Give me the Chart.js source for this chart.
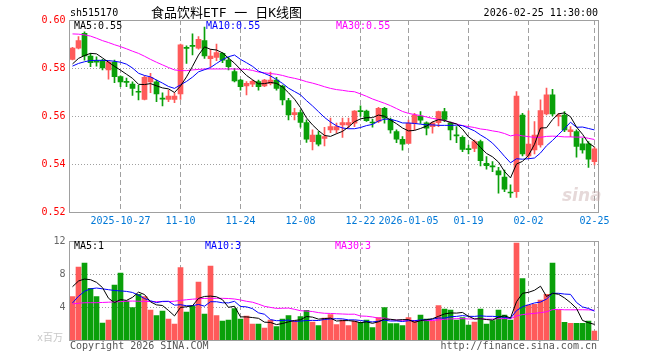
<!DOCTYPE html>
<html><head><meta charset="utf-8">
<script src="https://cdn.jsdelivr.net/npm/chart.js@4.4.1/dist/chart.umd.min.js"></script>
<style>
body{margin:0;background:#fff;}
#wrap{position:relative;width:660px;height:360px;overflow:hidden;font-family:"DejaVu Sans Mono",monospace;font-size:10px;}
canvas{position:absolute;left:0;top:0;}
.t{position:absolute;white-space:nowrap;line-height:12px;}
</style></head><body>
<div id="wrap">
<canvas id="pc" width="660" height="360"></canvas>
<canvas id="vc" width="660" height="360"></canvas>
<div class="t" style="left:70px;top:7px;color:#000">sh515170</div>
<div class="t" style="left:151px;top:5px;line-height:16px;font-size:13px;font-family:'DejaVu Sans Mono','Noto Sans CJK SC';color:#000">食品饮料ETF 一 日K线图</div>
<div class="t" style="right:62px;top:7px;color:#000">2026-02-25 11:30:00</div>
<div class="t" style="left:74px;top:20px;color:#000">MA5:0.55</div>
<div class="t" style="left:206px;top:20px;color:#0000ff">MA10:0.55</div>
<div class="t" style="left:336px;top:20px;color:#ff00ff">MA30:0.55</div>
<div class="t" style="left:74px;top:240px;color:#000">MA5:1</div>
<div class="t" style="left:205px;top:240px;color:#0000ff">MA10:3</div>
<div class="t" style="left:335px;top:240px;color:#ff00ff">MA30:3</div>
<div class="t" style="right:597px;top:332px;color:#c8c8c8;font-family:'DejaVu Sans Mono','Noto Sans CJK SC'">x百万</div>
<div class="t" style="left:70px;top:340px;color:#555">Copyright 2026 SINA.COM</div>
<div class="t" style="right:63px;top:340px;color:#555">http://finance.sina.com.cn</div>
<div class="t" style="left:562px;top:186px;font:italic bold 17px 'DejaVu Sans',sans-serif;color:rgba(200,170,170,0.45);line-height:18px">sina</div>
</div>
<script>
const dates=["2025-10-15","2025-10-16","2025-10-17","2025-10-20","2025-10-21","2025-10-22","2025-10-23","2025-10-24","2025-10-27","2025-10-28","2025-10-29","2025-10-30","2025-10-31","2025-11-03","2025-11-04","2025-11-05","2025-11-06","2025-11-07","2025-11-10","2025-11-11","2025-11-12","2025-11-13","2025-11-14","2025-11-17","2025-11-18","2025-11-19","2025-11-20","2025-11-21","2025-11-24","2025-11-25","2025-11-26","2025-11-27","2025-11-28","2025-12-01","2025-12-02","2025-12-03","2025-12-04","2025-12-05","2025-12-08","2025-12-09","2025-12-10","2025-12-11","2025-12-12","2025-12-15","2025-12-16","2025-12-17","2025-12-18","2025-12-19","2025-12-22","2025-12-23","2025-12-24","2025-12-25","2025-12-26","2025-12-29","2025-12-30","2025-12-31","2026-01-05","2026-01-06","2026-01-07","2026-01-08","2026-01-09","2026-01-12","2026-01-13","2026-01-14","2026-01-15","2026-01-16","2026-01-19","2026-01-20","2026-01-21","2026-01-22","2026-01-23","2026-01-26","2026-01-27","2026-01-28","2026-01-29","2026-01-30","2026-02-02","2026-02-03","2026-02-04","2026-02-05","2026-02-06","2026-02-09","2026-02-10","2026-02-11","2026-02-12","2026-02-13","2026-02-24","2026-02-25"];
const tickDates=["2025-10-27","2025-11-10","2025-11-24","2025-12-08","2025-12-22","2026-01-05","2026-01-19","2026-02-02","2026-02-25"];
const tickTexts=["2025-10-27","11-10","11-24","12-08","12-22","2026-01-05","01-19","02-02","02-25"];
const priceTicks=[0.52,0.54,0.56,0.58,0.60];
const volTicks=[0,4,8,12];
const open=[0.5836,0.5883,0.5944,0.5850,0.5831,0.5831,0.5792,0.5825,0.5764,0.5743,0.5733,0.5701,0.5669,0.5742,0.5742,0.5672,0.5669,0.5669,0.5692,0.5885,0.5893,0.5883,0.5914,0.5839,0.5844,0.5861,0.5833,0.5785,0.5750,0.5725,0.5733,0.5743,0.5725,0.5736,0.5750,0.5725,0.5664,0.5606,0.5614,0.5573,0.5493,0.5521,0.5507,0.5542,0.5542,0.5563,0.5563,0.5570,0.5621,0.5620,0.5574,0.5577,0.5632,0.5584,0.5535,0.5503,0.5486,0.5569,0.5600,0.5572,0.5556,0.5572,0.5618,0.5572,0.5519,0.5511,0.5463,0.5465,0.5493,0.5403,0.5390,0.5372,0.5345,0.5282,0.5285,0.5604,0.5434,0.5459,0.5480,0.5609,0.5688,0.5598,0.5604,0.5535,0.5535,0.5484,0.5484,0.5410];
const high=[0.5886,0.5931,0.5951,0.5861,0.5847,0.5836,0.5830,0.5833,0.5767,0.5758,0.5742,0.5728,0.5767,0.5778,0.5750,0.5697,0.5708,0.5697,0.5900,0.5892,0.5942,0.5931,0.5971,0.5878,0.5900,0.5864,0.5844,0.5799,0.5753,0.5743,0.5750,0.5750,0.5753,0.5783,0.5761,0.5729,0.5674,0.5632,0.5625,0.5584,0.5542,0.5535,0.5553,0.5591,0.5570,0.5591,0.5591,0.5623,0.5642,0.5625,0.5586,0.5636,0.5636,0.5591,0.5542,0.5514,0.5583,0.5611,0.5618,0.5576,0.5576,0.5621,0.5632,0.5576,0.5556,0.5517,0.5479,0.5500,0.5500,0.5431,0.5410,0.5386,0.5375,0.5313,0.5702,0.5611,0.5622,0.5577,0.5667,0.5716,0.5711,0.5611,0.5618,0.5556,0.5542,0.5507,0.5493,0.5470];
const low=[0.5834,0.5880,0.5833,0.5806,0.5808,0.5792,0.5753,0.5739,0.5722,0.5722,0.5686,0.5667,0.5667,0.5697,0.5660,0.5642,0.5660,0.5656,0.5669,0.5819,0.5854,0.5878,0.5840,0.5806,0.5831,0.5822,0.5792,0.5742,0.5708,0.5688,0.5722,0.5708,0.5722,0.5729,0.5708,0.5646,0.5584,0.5584,0.5553,0.5490,0.5459,0.5475,0.5475,0.5531,0.5528,0.5511,0.5549,0.5556,0.5598,0.5577,0.5553,0.5572,0.5570,0.5528,0.5489,0.5458,0.5486,0.5542,0.5569,0.5521,0.5528,0.5556,0.5576,0.5500,0.5489,0.5451,0.5442,0.5451,0.5392,0.5378,0.5368,0.5278,0.5285,0.5261,0.5261,0.5434,0.5424,0.5442,0.5470,0.5604,0.5600,0.5559,0.5535,0.5514,0.5428,0.5445,0.5386,0.5396];
const close=[0.5883,0.5914,0.5850,0.5822,0.5824,0.5800,0.5825,0.5764,0.5742,0.5740,0.5715,0.5699,0.5761,0.5761,0.5692,0.5670,0.5683,0.5683,0.5897,0.5882,0.5890,0.5919,0.5850,0.5850,0.5864,0.5833,0.5806,0.5746,0.5722,0.5736,0.5744,0.5722,0.5750,0.5750,0.5715,0.5667,0.5604,0.5614,0.5573,0.5503,0.5521,0.5483,0.5514,0.5556,0.5556,0.5573,0.5573,0.5620,0.5618,0.5581,0.5571,0.5632,0.5591,0.5542,0.5503,0.5483,0.5569,0.5604,0.5583,0.5549,0.5572,0.5618,0.5586,0.5542,0.5517,0.5461,0.5460,0.5493,0.5414,0.5393,0.5388,0.5354,0.5295,0.5279,0.5683,0.5442,0.5483,0.5521,0.5623,0.5688,0.5609,0.5604,0.5542,0.5542,0.5473,0.5459,0.5420,0.5463];
const ma5=[0.5817,0.5840,0.5852,0.5861,0.5859,0.5842,0.5824,0.5807,0.5791,0.5774,0.5757,0.5732,0.5731,0.5735,0.5726,0.5717,0.5713,0.5698,0.5725,0.5763,0.5807,0.5854,0.5888,0.5878,0.5875,0.5863,0.5841,0.5820,0.5794,0.5769,0.5751,0.5734,0.5735,0.5740,0.5736,0.5721,0.5697,0.5670,0.5635,0.5592,0.5563,0.5539,0.5519,0.5515,0.5526,0.5536,0.5554,0.5576,0.5588,0.5593,0.5593,0.5604,0.5599,0.5583,0.5568,0.5550,0.5538,0.5540,0.5548,0.5558,0.5575,0.5585,0.5582,0.5573,0.5567,0.5545,0.5513,0.5495,0.5469,0.5444,0.5430,0.5408,0.5369,0.5342,0.5400,0.5411,0.5436,0.5482,0.5550,0.5551,0.5585,0.5609,0.5613,0.5597,0.5554,0.5524,0.5487,0.5471];
const ma10=[0.5808,0.5819,0.5826,0.5831,0.5832,0.5832,0.5831,0.5828,0.5824,0.5816,0.5800,0.5778,0.5769,0.5763,0.5750,0.5737,0.5723,0.5715,0.5730,0.5744,0.5762,0.5784,0.5793,0.5802,0.5819,0.5835,0.5847,0.5854,0.5836,0.5822,0.5807,0.5787,0.5777,0.5767,0.5752,0.5736,0.5716,0.5702,0.5688,0.5664,0.5642,0.5618,0.5594,0.5575,0.5559,0.5550,0.5547,0.5547,0.5552,0.5560,0.5565,0.5579,0.5587,0.5586,0.5580,0.5571,0.5571,0.5569,0.5566,0.5563,0.5563,0.5561,0.5561,0.5561,0.5562,0.5560,0.5549,0.5538,0.5521,0.5506,0.5487,0.5461,0.5432,0.5405,0.5422,0.5420,0.5422,0.5425,0.5446,0.5476,0.5498,0.5523,0.5547,0.5574,0.5553,0.5554,0.5548,0.5542];
const ma30=[0.5942,0.5941,0.5938,0.5933,0.5924,0.5914,0.5906,0.5897,0.5889,0.5880,0.5870,0.5861,0.5849,0.5836,0.5824,0.5813,0.5802,0.5792,0.5789,0.5789,0.5792,0.5794,0.5796,0.5796,0.5796,0.5796,0.5796,0.5796,0.5795,0.5794,0.5790,0.5783,0.5780,0.5777,0.5774,0.5769,0.5762,0.5757,0.5751,0.5743,0.5737,0.5730,0.5722,0.5715,0.5710,0.5707,0.5703,0.5701,0.5692,0.5682,0.5671,0.5662,0.5653,0.5643,0.5631,0.5619,0.5611,0.5606,0.5602,0.5596,0.5590,0.5586,0.5581,0.5574,0.5567,0.5560,0.5556,0.5552,0.5546,0.5543,0.5538,0.5534,0.5527,0.5517,0.5522,0.5517,0.5514,0.5511,0.5511,0.5515,0.5516,0.5515,0.5513,0.5513,0.5512,0.5512,0.5507,0.5502];
const vol=[5.25,8.85,9.33,6.26,5.25,2.06,2.42,6.67,8.12,4.73,3.92,5.54,5.25,3.64,2.95,3.52,2.55,1.94,8.77,3.39,4.08,7.03,3.15,8.97,2.95,2.30,2.42,3.80,2.55,2.91,1.94,1.94,1.45,2.42,1.62,2.55,2.95,2.30,2.83,3.60,2.18,1.74,2.67,3.07,1.86,2.42,1.74,2.30,2.14,2.42,1.50,2.71,3.92,1.98,1.98,1.74,2.71,2.30,3.03,2.55,2.30,4.16,3.76,3.64,2.42,2.71,1.82,2.18,3.76,1.94,2.34,3.64,3.03,2.42,11.76,7.43,4.24,4.32,4.85,5.54,9.33,3.64,2.14,2.02,2.02,2.02,2.30,1.09];
const vma5=[6.46,7.15,7.39,7.31,6.99,6.35,5.06,4.53,4.90,4.80,5.17,5.80,5.51,4.62,4.26,4.18,3.58,2.92,3.95,4.03,4.15,5.04,5.28,5.32,5.24,4.88,3.96,4.09,2.80,2.80,2.72,2.63,2.16,2.13,1.87,2.00,2.20,2.37,2.45,2.85,2.77,2.53,2.60,2.65,2.30,2.35,2.35,2.28,2.09,2.20,2.02,2.21,2.54,2.51,2.42,2.47,2.47,2.14,2.35,2.47,2.58,2.87,3.16,3.28,3.26,3.34,2.87,2.55,2.58,2.48,2.41,2.77,2.94,2.67,4.64,5.66,5.78,6.03,6.52,5.28,5.66,5.54,5.10,4.53,3.83,2.37,2.10,1.89];
const vma10=[4.50,5.30,5.90,6.20,6.30,6.20,6.10,6.00,5.95,5.89,5.76,5.43,5.02,4.76,4.53,4.68,4.69,4.22,4.28,4.15,4.16,4.31,4.10,4.64,4.64,4.51,4.50,4.69,4.06,4.02,3.80,3.29,3.12,2.47,2.34,2.36,2.41,2.26,2.29,2.36,2.38,2.36,2.49,2.55,2.58,2.56,2.44,2.44,2.37,2.25,2.19,2.28,2.41,2.30,2.31,2.24,2.34,2.34,2.43,2.44,2.52,2.67,2.65,2.82,2.86,2.96,2.87,2.86,2.93,2.87,2.87,2.82,2.75,2.63,3.56,4.03,4.27,4.49,4.60,4.96,5.66,5.66,5.57,5.53,4.55,4.01,3.82,3.50];
const vma30=[4.38,4.45,4.52,4.52,4.52,4.55,4.58,4.62,4.65,4.70,4.72,4.70,4.68,4.66,4.65,4.65,4.66,4.70,4.80,4.88,4.95,5.00,5.04,5.05,5.05,5.05,5.03,4.97,4.85,4.69,4.58,4.35,4.08,3.95,3.83,3.85,3.87,3.72,3.55,3.51,3.45,3.32,3.24,3.22,3.18,3.15,3.12,3.13,2.91,2.88,2.79,2.65,2.67,2.44,2.41,2.39,2.40,2.35,2.36,2.35,2.36,2.44,2.52,2.56,2.58,2.59,2.55,2.55,2.58,2.52,2.53,2.59,2.60,2.58,2.91,3.08,3.16,3.23,3.32,3.42,3.68,3.71,3.66,3.66,3.66,3.67,3.65,3.61];

const UP='#ff5a5a', DN='#0aa00a', GRID='#a0a0a0', FRAME='#a0a0a0';
const MONO="'DejaVu Sans Mono', monospace";
const candleColors=close.map((c,i)=>c>=open[i]?UP:DN);
const isTick=i=>tickDates.indexOf(dates[i])>=0;
const frame={id:'frame',afterDraw(c){const a=c.chartArea,x=c.ctx;x.save();x.strokeStyle=FRAME;x.lineWidth=1;
  const L=Math.floor(a.left)+0.5,R=Math.round(a.right)+0.5,T=Math.round(a.top)+0.5,B=Math.round(a.bottom)+0.5;
  x.strokeRect(L,T,R-L,B-T);x.restore();}};
const gridPlug={id:'gridPlug',beforeDatasetsDraw(c,args,opts){
  const ctx=c.ctx,a=c.chartArea,xs=c.scales.x,ys=c.scales.y;
  ctx.save();ctx.strokeStyle=GRID;ctx.lineWidth=1;
  ctx.setLineDash([1,2]);
  opts.yTicks.forEach(v=>{const py=Math.round(ys.getPixelForValue(v))+0.5;ctx.beginPath();ctx.moveTo(Math.floor(a.left),py);ctx.lineTo(Math.round(a.right),py);ctx.stroke();});
  ctx.setLineDash([5,3]);
  dates.forEach((d,i)=>{if(!isTick(i))return;const px=Math.floor(xs.getPixelForValue(i))+0.5;ctx.beginPath();ctx.moveTo(px,Math.round(a.top));ctx.lineTo(px,Math.round(a.bottom));ctx.stroke();});
  ctx.restore();}};
const lineDs=(d,col)=>({type:'line',data:d,borderColor:col,borderWidth:1,pointRadius:0,tension:0,order:0,fill:false});

new Chart(document.getElementById('pc'),{
  type:'bar',
  data:{labels:dates,datasets:[
    lineDs(ma5,'#000000'),lineDs(ma10,'#0000ff'),lineDs(ma30,'#ff00ff'),
    {data:dates.map((d,i)=>[low[i],high[i]]),backgroundColor:candleColors,barThickness:1,grouped:false,order:2},
    {data:dates.map((d,i)=>[open[i],close[i]]),backgroundColor:candleColors,barThickness:5,grouped:false,minBarLength:1,order:1}
  ]},
  options:{responsive:false,animation:false,devicePixelRatio:1,
    layout:{padding:{left:0,right:62.5,top:20,bottom:132}},
    plugins:{legend:{display:false},tooltip:{enabled:false},gridPlug:{yTicks:priceTicks}},
    scales:{
      x:{offset:true,grid:{display:false,drawTicks:false},border:{display:false},
        ticks:{autoSkip:false,maxRotation:0,minRotation:0,padding:3,color:'#0078d7',font:{family:MONO,size:10},
          callback:(v,i)=>{const k=tickDates.indexOf(dates[i]);return k>=0?tickTexts[k]:'';}},
        afterFit:s=>{s.height=16;}},
      y:{min:priceTicks[0],max:priceTicks[priceTicks.length-1],
        afterBuildTicks:s=>{s.ticks=priceTicks.map(v=>({value:v}));},
        ticks:{color:'#ff0000',padding:4,font:{family:MONO,size:10},callback:v=>Number(v).toFixed(2)},
        grid:{display:false,drawTicks:false},border:{display:false},
        afterFit:s=>{s.width=69.5;}}
    }},
  plugins:[gridPlug,frame]
});

new Chart(document.getElementById('vc'),{
  type:'bar',
  data:{labels:dates,datasets:[
    lineDs(vma5,'#000000'),lineDs(vma10,'#0000ff'),lineDs(vma30,'#ff00ff'),
    {data:vol,backgroundColor:candleColors,barThickness:5,grouped:false,order:1}
  ]},
  options:{responsive:false,animation:false,devicePixelRatio:1,
    layout:{padding:{left:0,right:62.5,top:241,bottom:20}},
    plugins:{legend:{display:false},tooltip:{enabled:false},gridPlug:{yTicks:volTicks}},
    scales:{
      x:{offset:true,grid:{display:false,drawTicks:false},border:{display:false},ticks:{display:false},afterFit:s=>{s.height=0;}},
      y:{min:volTicks[0],max:volTicks[volTicks.length-1],
        afterBuildTicks:s=>{s.ticks=volTicks.map(v=>({value:v}));},
        ticks:{color:'#666666',padding:4,font:{family:MONO,size:10},callback:v=>v===0?'':String(v)},
        grid:{display:false,drawTicks:false},border:{display:false},
        afterFit:s=>{s.width=69.5;}}
    }},
  plugins:[gridPlug,frame]
});
</script>
</body></html>
